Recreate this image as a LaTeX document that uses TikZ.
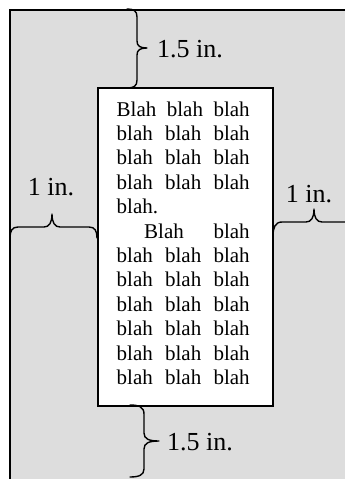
\documentclass[tikz,border=0pt]{standalone}
\usepackage{fontspec}
\setmainfont{Liberation Serif}
\definecolor{pagegray}{RGB}{221,221,221}
\begin{document}
\begin{tikzpicture}[x=1pt,y=-1pt,
  pagebox/.style={fill=pagegray, draw=black, line width=1.5pt, inner sep=0pt, anchor=north west},
  textbox/.style={fill=white, draw=black, line width=2pt, inner sep=0pt, anchor=north west},
  bracepath/.style={draw=black, line width=1.4pt, line cap=round, line join=round},
  bodyline/.style={anchor=base west, inner sep=0pt, font=\fontsize{21}{24}\selectfont},
  dimlabel/.style={anchor=base, inner sep=0pt, font=\fontsize{26}{30}\selectfont}]
\useasboundingbox (0,0) rectangle (345,479);
\clip (0,0) rectangle (345,479);
\node[pagebox, minimum width=400pt, minimum height=520pt] (page) at (9,9) {};
\node[textbox, minimum width=175pt, minimum height=318pt] (box) at (97,87) {};
% body text
\node[bodyline] (l1) at (116.5,116) {\hbox to 133pt{Blah\hfill blah\hfill blah}};
\node[bodyline] (l2) at (116.5,140.4) {\hbox to 133pt{blah\hfill blah\hfill blah}};
\node[bodyline] (l3) at (116.5,164.8) {\hbox to 133pt{blah\hfill blah\hfill blah}};
\node[bodyline] (l4) at (116.5,189.2) {\hbox to 133pt{blah\hfill blah\hfill blah}};
\node[bodyline] (l5) at (116.5,213.6) {blah.};
\node[bodyline] (l6) at (144,238) {\hbox to 105.5pt{Blah\hfill blah}};
\node[bodyline] (l7) at (116.5,262.4) {\hbox to 133pt{blah\hfill blah\hfill blah}};
\node[bodyline] (l8) at (116.5,286.8) {\hbox to 133pt{blah\hfill blah\hfill blah}};
\node[bodyline] (l9) at (116.5,311.2) {\hbox to 133pt{blah\hfill blah\hfill blah}};
\node[bodyline] (l10) at (116.5,335.6) {\hbox to 133pt{blah\hfill blah\hfill blah}};
\node[bodyline] (l11) at (116.5,360) {\hbox to 133pt{blah\hfill blah\hfill blah}};
\node[bodyline] (l12) at (116.5,384.4) {\hbox to 133pt{blah\hfill blah\hfill blah}};
% top brace (pointing right)
\draw[bracepath] (127,9) .. controls (134,9) and (137,11) .. (137,17) -- (137,41)
  .. controls (137,46) and (140,48) .. (147,48)
  .. controls (140,48) and (137,50) .. (137,55) -- (137,80)
  .. controls (137,86) and (134,88) .. (127,88);
% bottom brace (pointing right)
\draw[bracepath] (130,405) .. controls (139,405) and (144,407) .. (144,414) -- (144,433)
  .. controls (144,439) and (149,441) .. (159,441)
  .. controls (149,441) and (144,443) .. (144,449) -- (144,469)
  .. controls (144,475) and (139,477) .. (130,477);
% left brace (pointing up)
\draw[bracepath] (10,238) .. controls (10,231) and (12,227) .. (18,227) -- (44,227)
  .. controls (49,227) and (52,223) .. (52,214)
  .. controls (52,223) and (55,227) .. (60,227) -- (89,227)
  .. controls (95,227) and (97,231) .. (97,238);
% right brace (pointing up)
\draw[bracepath] (273,236) .. controls (273,228) and (275,222) .. (282,222) -- (306,222)
  .. controls (311,222) and (314,218) .. (314,209)
  .. controls (314,218) and (317,222) .. (322,222) -- (347,222)
  .. controls (354,222) and (356,228) .. (356,236);
% labels
\node[dimlabel, anchor=base west] (topl) at (157,57) {1.5 in.};
\node[dimlabel, anchor=base west] (botl) at (167,450) {1.5 in.};
\node[dimlabel] (leftl) at (51,195) {1 in.};
\node[dimlabel] (rightl) at (309,202) {1 in.};
\end{tikzpicture}
\end{document}
